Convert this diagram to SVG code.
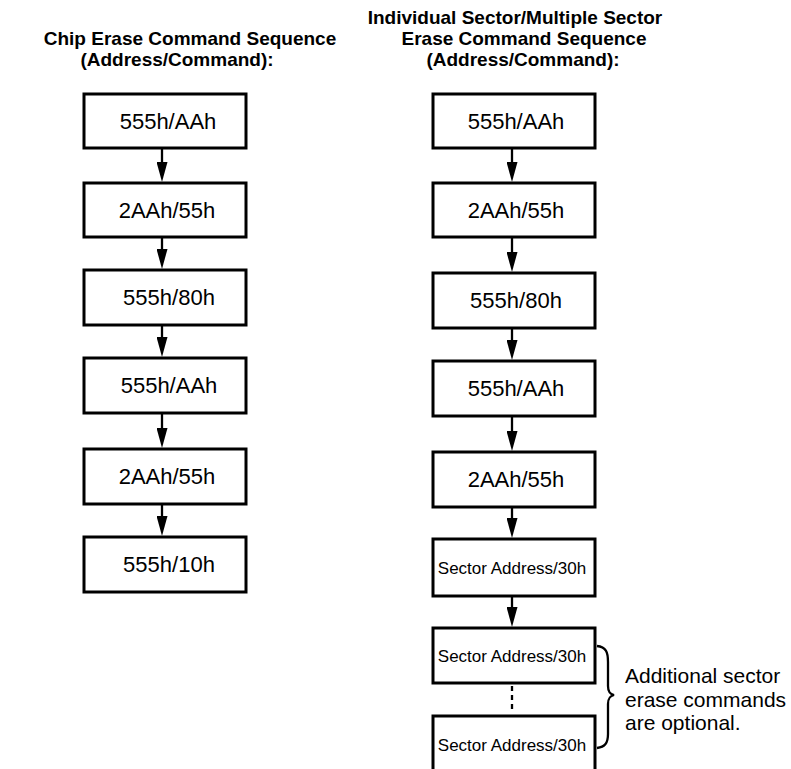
<svg xmlns="http://www.w3.org/2000/svg" width="791" height="769" viewBox="0 0 791 769">
<style>
.bg{fill:#fff}
.box{fill:#fff;stroke:#000;stroke-width:3}
.t{font-family:"Liberation Sans",Arial,sans-serif;font-size:22px;fill:#000;text-anchor:middle}
.s{font-family:"Liberation Sans",Arial,sans-serif;font-size:17px;fill:#000;text-anchor:middle}
.h{font-family:"Liberation Sans",Arial,sans-serif;font-size:19px;font-weight:bold;fill:#000;text-anchor:middle}
.n{font-family:"Liberation Sans",Arial,sans-serif;font-size:21px;fill:#000}
.c{stroke:#000;stroke-width:2.3;fill:none}
</style>
<defs>
<marker id="ah" markerWidth="20" markerHeight="11" refX="0" refY="5.5" orient="auto" markerUnits="userSpaceOnUse" viewBox="0 0 20 11">
<path d="M0,0 L20,5.5 L0,11 Z" fill="#000"/>
</marker>
</defs>
<rect class="bg" x="0" y="0" width="791" height="769"/>
<g id="titles">
<text class="h" x="190" y="45">Chip Erase Command Sequence</text>
<text class="h" x="177" y="66">(Address/Command):</text>
<text class="h" x="515" y="24">Individual Sector/Multiple Sector</text>
<text class="h" x="524" y="45">Erase Command Sequence</text>
<text class="h" x="523" y="66">(Address/Command):</text>
</g>
<g id="connectors">
<line class="c" x1="162" y1="149" x2="162" y2="162" marker-end="url(#ah)"/>
<line class="c" x1="162" y1="238" x2="162" y2="249" marker-end="url(#ah)"/>
<line class="c" x1="162" y1="326" x2="162" y2="337" marker-end="url(#ah)"/>
<line class="c" x1="162" y1="414" x2="162" y2="428" marker-end="url(#ah)"/>
<line class="c" x1="162" y1="505" x2="162" y2="516" marker-end="url(#ah)"/>
<line class="c" x1="512" y1="149" x2="512" y2="162" marker-end="url(#ah)"/>
<line class="c" x1="512" y1="238" x2="512" y2="252" marker-end="url(#ah)"/>
<line class="c" x1="512" y1="329" x2="512" y2="340" marker-end="url(#ah)"/>
<line class="c" x1="512" y1="417" x2="512" y2="431" marker-end="url(#ah)"/>
<line class="c" x1="512" y1="508" x2="512" y2="518" marker-end="url(#ah)"/>
<line class="c" x1="512" y1="597" x2="512" y2="607" marker-end="url(#ah)"/>
<line class="c" x1="512" y1="686" x2="512" y2="712" stroke-dasharray="5,4"/>
</g>
<g id="L1"><rect class="box" x="84" y="94" width="162" height="54"/><text class="t" x="168" y="129">555h/AAh</text></g>
<g id="L2"><rect class="box" x="84" y="183" width="162" height="54"/><text class="t" x="167" y="218">2AAh/55h</text></g>
<g id="L3"><rect class="box" x="84" y="270" width="162" height="55"/><text class="t" x="169" y="305">555h/80h</text></g>
<g id="L4"><rect class="box" x="84" y="358" width="162" height="55"/><text class="t" x="169" y="393">555h/AAh</text></g>
<g id="L5"><rect class="box" x="84" y="449" width="162" height="55"/><text class="t" x="167" y="484">2AAh/55h</text></g>
<g id="L6"><rect class="box" x="84" y="537" width="162" height="55"/><text class="t" x="169" y="572">555h/10h</text></g>
<g id="R1"><rect class="box" x="433" y="94" width="162" height="54"/><text class="t" x="516" y="129">555h/AAh</text></g>
<g id="R2"><rect class="box" x="433" y="183" width="162" height="54"/><text class="t" x="516" y="218">2AAh/55h</text></g>
<g id="R3"><rect class="box" x="433" y="273" width="162" height="55"/><text class="t" x="516" y="308">555h/80h</text></g>
<g id="R4"><rect class="box" x="433" y="361" width="162" height="55"/><text class="t" x="516" y="396">555h/AAh</text></g>
<g id="R5"><rect class="box" x="433" y="452" width="162" height="55"/><text class="t" x="516" y="487">2AAh/55h</text></g>
<g id="R6"><rect class="box" x="433" y="539" width="162" height="57"/><text class="s" x="512" y="574">Sector Address/30h</text></g>
<g id="R7"><rect class="box" x="433" y="628" width="162" height="55"/><text class="s" x="512" y="662">Sector Address/30h</text></g>
<g id="R8"><path class="box" d="M433,775 V716 H595 V775"/><text class="s" x="512" y="751">Sector Address/30h</text></g>
<g id="brace">
<path class="c" stroke-width="1.5" d="M597,646 C606,647 608,652 608,662 L608,686 C608,692 610,694 614,695 C610,696 608,698 608,704 L608,734 C608,743 605,747 597,748"/>
<text class="n" x="625" y="683">Additional sector</text>
<text class="n" x="625" y="707">erase commands</text>
<text class="n" x="625" y="730">are optional.</text>
</g>
</svg>
